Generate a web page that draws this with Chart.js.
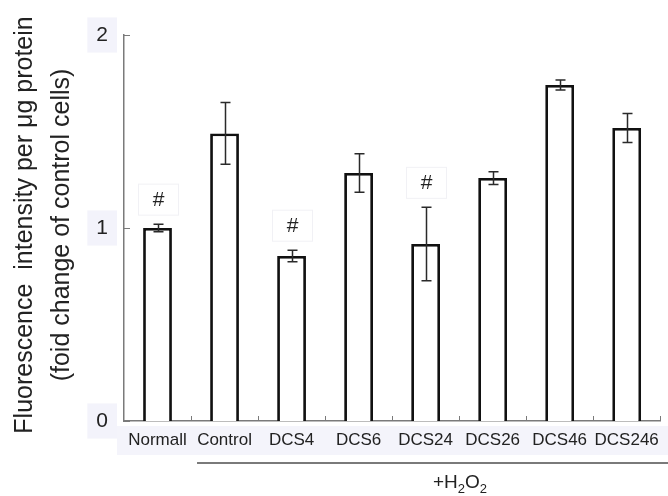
<!DOCTYPE html>
<html>
<head>
<meta charset="utf-8">
<script src="https://cdn.jsdelivr.net/npm/chart.js@4/dist/chart.umd.min.js"></script>
<style>
  html, body { margin: 0; padding: 0; background: #ffffff; }
  #wrap { width: 668px; height: 496px; }
</style>
</head>
<body>
<div id="wrap"><canvas id="c" width="668" height="496"></canvas></div>
<script>
// Treatment groups and measured values (fold change vs. control cells)
const categories = ['Normall', 'Control', 'DCS4', 'DCS6', 'DCS24', 'DCS26', 'DCS46', 'DCS246'];
const means = [1.00, 1.49, 0.855, 1.285, 0.917, 1.259, 1.741, 1.518];
const errors = [0.02, 0.16, 0.03, 0.10, 0.19, 0.033, 0.026, 0.075];
const marks = ['#', '', '#', '', '#', '', '', ''];
const yTicks = [0, 1, 2];
const yTitleLines = ['Fluorescence  intensity per \u03bcg protein', '(foid change of control cells)'];

const FONT = '"Liberation Sans", Arial, Helvetica, sans-serif';
const TEXT = '#222222';
const AXIS = '#7a7a7a';

// Light band behind the category labels
const labelBand = {
  id: 'labelBand',
  beforeDraw(chart) {
    const { ctx, chartArea } = chart;
    ctx.save();
    ctx.fillStyle = '#f4f4fb';
    ctx.fillRect(117, chartArea.bottom + 5, chart.width - 117, 29);
    ctx.restore();
  }
};

// Inward tick marks on both axes
const innerTicks = {
  id: 'innerTicks',
  afterDraw(chart) {
    const { ctx, chartArea, scales } = chart;
    ctx.save();
    ctx.strokeStyle = AXIS;
    ctx.lineWidth = 1;
    yTicks.forEach(v => {
      const y = Math.round(scales.y.getPixelForValue(v)) + 0.5;
      ctx.beginPath();
      ctx.moveTo(chartArea.left, y);
      ctx.lineTo(chartArea.left + 6, y);
      ctx.stroke();
    });
    const n = categories.length;
    const step = (chartArea.right - chartArea.left) / n;
    for (let i = 1; i <= n; i++) {
      const x = Math.round(chartArea.left + i * step) + 0.5;
      ctx.beginPath();
      ctx.moveTo(x, chartArea.bottom);
      ctx.lineTo(x, chartArea.bottom - 5);
      ctx.stroke();
    }
    ctx.restore();
  }
};

// Error bars and significance markers
const errorBars = {
  id: 'errorBars',
  afterDatasetsDraw(chart) {
    const { ctx, scales } = chart;
    const meta = chart.getDatasetMeta(0);
    ctx.save();
    meta.data.forEach((bar, i) => {
      const x = Math.round(bar.x) + 0.5;
      const yHi = scales.y.getPixelForValue(means[i] + errors[i]);
      const yLo = scales.y.getPixelForValue(means[i] - errors[i]);
      ctx.strokeStyle = '#2a2a2a';
      ctx.lineWidth = 1.5;
      ctx.beginPath();
      ctx.moveTo(x, yHi); ctx.lineTo(x, yLo);
      ctx.moveTo(x - 5, yHi); ctx.lineTo(x + 5, yHi);
      ctx.moveTo(x - 5, yLo); ctx.lineTo(x + 5, yLo);
      ctx.stroke();

      if (marks[i]) {
        const cy = yHi - 25;
        ctx.fillStyle = '#ffffff';
        ctx.fillRect(x - 20, cy - 15, 40, 31);
        ctx.strokeStyle = '#f1f1f5';
        ctx.lineWidth = 1;
        ctx.strokeRect(x - 20, cy - 15, 40, 31);
        ctx.fillStyle = TEXT;
        ctx.font = '21px ' + FONT;
        ctx.textAlign = 'center';
        ctx.textBaseline = 'middle';
        ctx.fillText(marks[i], x, cy + 1);
      }
    });
    ctx.restore();
  }
};

// Rotated two-line axis title, treatment bracket and +H2O2 note
const annotations = {
  id: 'annotations',
  afterDraw(chart) {
    const { ctx, chartArea } = chart;
    ctx.save();
    ctx.fillStyle = TEXT;
    ctx.font = '25px ' + FONT;
    ctx.textAlign = 'center';
    ctx.textBaseline = 'middle';
    const cy = 225;
    [25, 62].forEach((x, k) => {
      ctx.save();
      ctx.translate(x, cy);
      ctx.rotate(-Math.PI / 2);
      ctx.fillText(yTitleLines[k], 0, 0);
      ctx.restore();
    });

    // bracket under the H2O2-treated groups
    const step = (chartArea.right - chartArea.left) / categories.length;
    const x0 = chartArea.left + step + 6;
    ctx.strokeStyle = AXIS;
    ctx.lineWidth = 2;
    ctx.beginPath();
    ctx.moveTo(x0, 463);
    ctx.lineTo(chart.width, 463);
    ctx.stroke();

    // +H2O2 with subscripts
    ctx.textAlign = 'left';
    ctx.textBaseline = 'alphabetic';
    const parts = [['+H', 19, 0], ['2', 13, 5], ['O', 19, 0], ['2', 13, 5]];
    let total = 0;
    parts.forEach(p => { ctx.font = p[1] + 'px ' + FONT; total += ctx.measureText(p[0]).width; });
    let x = 460 - total / 2;
    const base = 488;
    parts.forEach(p => {
      ctx.font = p[1] + 'px ' + FONT;
      ctx.fillText(p[0], x, base + p[2]);
      x += ctx.measureText(p[0]).width;
    });
    ctx.restore();
  }
};

new Chart(document.getElementById('c'), {
  type: 'bar',
  data: {
    labels: categories,
    datasets: [{
      data: means,
      backgroundColor: '#ffffff',
      borderColor: '#111111',
      borderWidth: 2.8,
      barPercentage: 0.43,
      categoryPercentage: 1.0
    }]
  },
  options: {
    responsive: false,
    animation: false,
    devicePixelRatio: 1,
    layout: { padding: { top: 35, right: 3, left: 0, bottom: 0 } },
    plugins: {
      legend: { display: false },
      tooltip: { enabled: false }
    },
    scales: {
      x: {
        grid: { display: false, drawTicks: false },
        border: { color: AXIS, width: 1.5 },
        ticks: {
          color: TEXT,
          font: { family: FONT, size: 17 },
          padding: 9,
          autoSkip: false,
          maxRotation: 0
        },
        afterFit(scale) { scale.height = 75; }
      },
      y: {
        min: 0,
        max: 2,
        afterBuildTicks(scale) { scale.ticks = yTicks.map(v => ({ value: v })); },
        grid: { display: false, drawTicks: false },
        border: { color: AXIS, width: 1.5 },
        ticks: {
          color: TEXT,
          font: { family: FONT, size: 21 },
          padding: 16,
          showLabelBackdrop: true,
          backdropColor: '#f3f3fb',
          backdropPadding: { top: 5, bottom: 5, left: 9, right: 9 }
        },
        afterFit(scale) { scale.width = 124; }
      }
    }
  },
  plugins: [labelBand, innerTicks, errorBars, annotations]
});
</script>
</body>
</html>
